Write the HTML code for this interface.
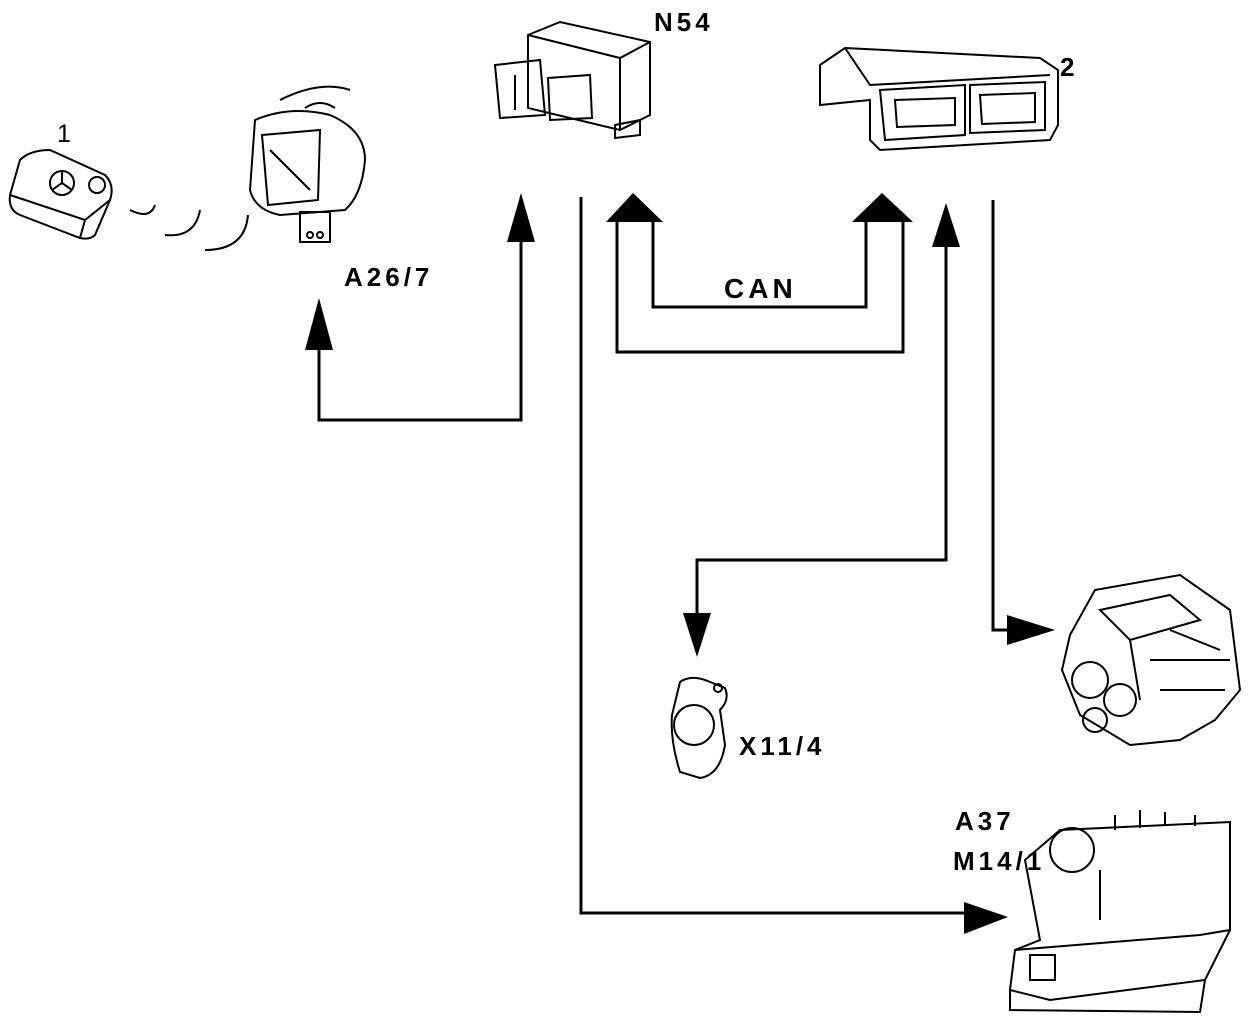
<!DOCTYPE html>
<html><head><meta charset="utf-8"><style>
html,body{margin:0;padding:0;background:#fff}
svg{display:block}
text{font-family:"Liberation Sans",sans-serif;font-weight:bold;fill:#000;letter-spacing:4px}
</style></head><body>
<svg width="1248" height="1022" viewBox="0 0 1248 1022" xmlns="http://www.w3.org/2000/svg">
<g fill="none" stroke="#000" stroke-width="3">
<polyline points="319,340 319,420 521,420 521,235"/>
<polyline points="581,197 581,913 970,913"/>
<polyline points="653,220 653,307 866,307 866,220"/>
<polyline points="617,220 617,352 903,352 903,220"/>
<polyline points="946,245 946,560 697,560 697,620"/>
<polyline points="993,200 993,630 1015,630"/>
</g>
<g fill="#000">
<polygon points="319,298 305,350 333,350"/>
<polygon points="521,193 507,242 535,242"/>
<polygon points="633,193 606,222 663,222"/>
<polygon points="882,193 852,222 913,222"/>
<polygon points="946,203 932,247 960,247"/>
<polygon points="697,657 683,613 711,613"/>
<polygon points="1055,630 1007,615 1007,645"/>
<polygon points="1008,917 964,902 964,934"/>
</g>
<text x="654" y="31" font-size="26">N54</text>
<text x="1060" y="76" font-size="26">2</text>
<text x="57" y="142" font-size="25" font-weight="normal" style="font-weight:normal">1</text>
<text x="344" y="286" font-size="26">A26/7</text>
<text x="724" y="298" font-size="28">CAN</text>
<text x="739" y="755" font-size="26">X11/4</text>
<text x="955" y="830" font-size="26">A37</text>
<text x="953" y="870" font-size="26">M14/1</text>

<g fill="none" stroke="#000" stroke-width="2">
<path d="M20,160 Q30,150 50,150 L105,175 Q115,185 110,200 L95,235 Q90,240 80,238 L20,215 Q8,210 10,195 Z"/>
<path d="M10,195 L85,220 L110,200 M85,220 L80,238"/>
<circle cx="62" cy="183" r="12"/><path d="M62,171 L62,183 L52,190 M62,183 L72,190"/><circle cx="97" cy="185" r="8"/>
<path d="M130,210 Q150,220 155,205 M165,235 Q195,238 200,210 M205,250 Q245,250 248,215"/>
<path d="M255,120 Q290,105 330,115 Q365,130 365,160 Q362,195 345,210 L280,215 Q255,210 250,190 Z"/>
<path d="M262,135 L320,130 L318,200 L268,205 Z M270,150 L310,190"/>
<rect x="300" y="212" width="30" height="30"/>
<circle cx="310" cy="235" r="3"/><circle cx="320" cy="235" r="3"/>
<path d="M305,108 Q320,98 335,108 M280,100 Q320,80 350,90"/>
<path d="M528,35 L560,22 L650,42 L650,115 L620,130 L528,108 Z M528,35 L620,58 L650,42 M620,58 L620,130"/>
<path d="M495,65 L540,60 L545,115 L500,118 Z M515,75 L515,110 M548,78 L590,75 L592,118 L550,120 Z"/>
<path d="M615,125 L640,120 L640,135 L615,138 Z"/>
<path d="M820,65 L845,48 L1040,58 L1058,70 L1058,125 L1050,140 L880,150 L870,140 L870,100 L820,105 Z"/>
<path d="M845,48 L870,85 L1050,75 M880,90 L965,85 L965,135 L885,140 Z M970,85 L1045,82 L1045,130 L970,133 Z"/>
<path d="M895,100 L955,98 L955,125 L897,127 Z M980,95 L1035,93 L1035,122 L982,124 Z"/>
<path d="M680,682 Q690,675 705,680 L725,688 Q730,700 720,710 L725,745 Q720,775 700,778 L680,772 Q670,740 672,715 Z"/>
<circle cx="694" cy="725" r="20"/><circle cx="718" cy="688" r="4"/>
<path d="M1070,635 L1095,590 L1180,575 L1230,610 L1240,690 L1215,720 L1180,740 L1130,745 L1080,715 L1062,670 Z"/>
<circle cx="1090" cy="680" r="18"/><circle cx="1120" cy="700" r="16"/><circle cx="1095" cy="720" r="12"/>
<path d="M1100,610 L1170,595 L1200,620 L1130,640 Z M1130,640 L1140,700 M1170,630 L1220,650 M1150,660 L1230,660 M1160,690 L1225,690"/>
<path d="M1025,860 L1060,830 L1230,822 L1230,930 L1205,980 L1050,1000 L1010,990 L1015,950 L1040,940 Z"/>
<circle cx="1072" cy="850" r="22"/>
<path d="M1015,950 L1200,935 L1230,930 M1010,990 L1010,1010 L1200,1012 L1205,980 M1100,870 L1100,920"/>
<path d="M1115,830 L1115,815 M1140,828 L1140,810 M1165,825 L1165,812 M1195,826 L1195,815"/>
<rect x="1030" y="955" width="25" height="25"/>
</g>
</svg>
</body></html>
